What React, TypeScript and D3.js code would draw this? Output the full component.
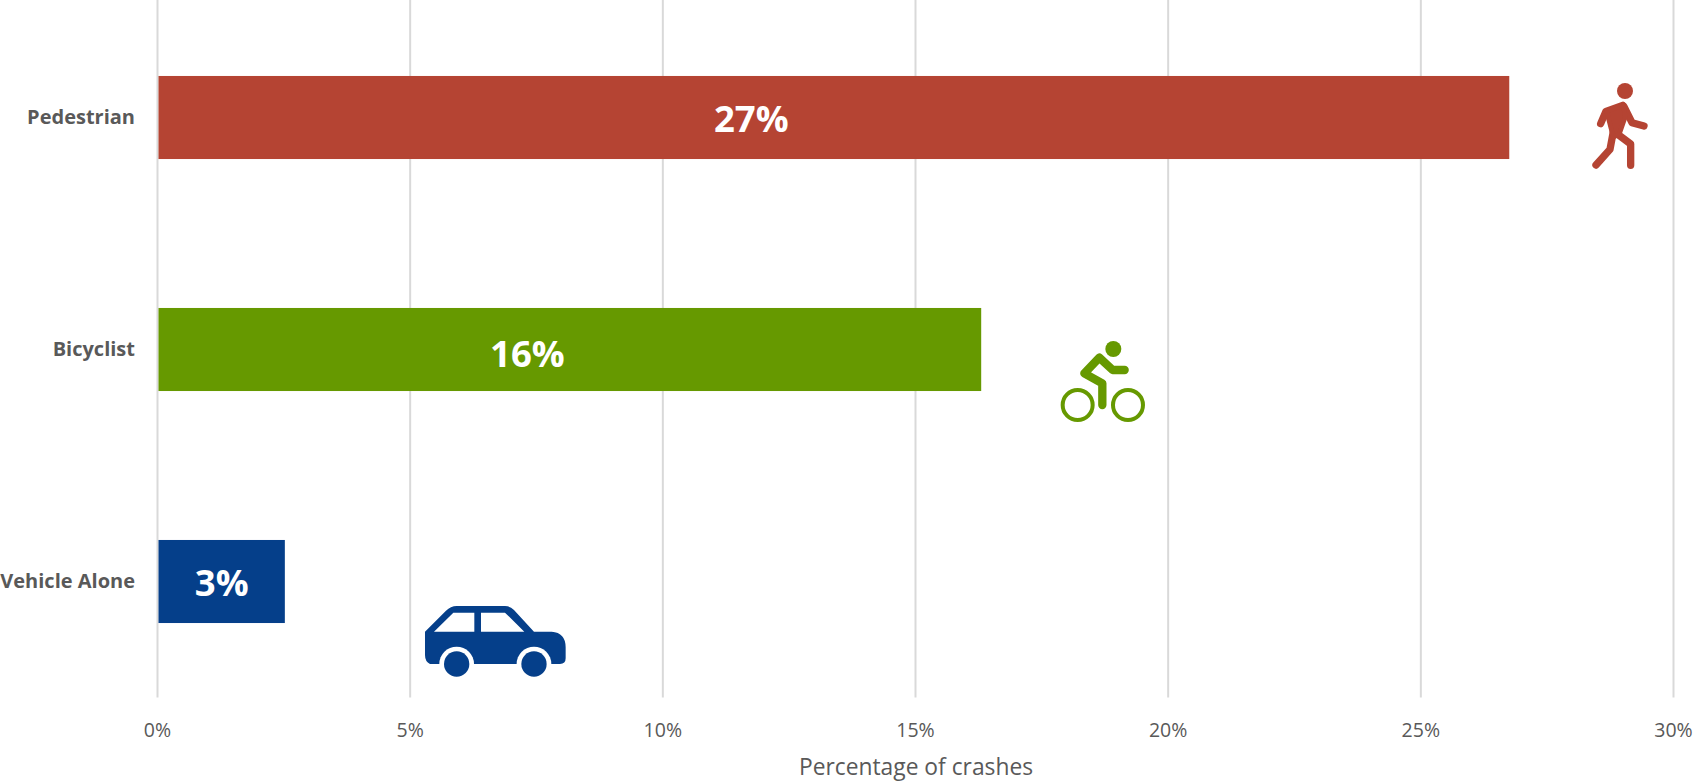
import React from "react";
import * as d3 from "d3";

const categories = ["Pedestrian", "Bicyclist", "Vehicle Alone"];
const values = [26.75, 16.3, 2.52];
const valueLabels = ["27%", "16%", "3%"];
const labelAnchors = [11.75, 7.32, 1.27];
const labelShift = [0, 3, 0];
const colors = ["#B54433", "#669900", "#053F8A"];
const ticks = [0, 5, 10, 15, 20, 25, 30];
const axisTitle = "Percentage of crashes";

const W = 1698, H = 782;
const x = d3.scaleLinear().domain([0, 30]).range([157.5, 1673.5]);
const y = d3.scaleBand().domain(categories).range([1.5, 697.5]).paddingInner(0.642).paddingOuter(0.321);
const FONT = "'Open Sans', sans-serif";
const GREY = "#595959";

function Walker({ c }: { c: string }) {
  return (
    <g transform="translate(1560,60) scale(0.3333)" fill="none" stroke={c} strokeWidth={22} strokeLinecap="round" strokeLinejoin="round">
      <circle cx={195} cy={93} r={24} fill={c} stroke="none" />
      <path d="M122,191 L138,154 L188,136" />
      <path d="M192,140 L216,188 L252,198" />
      <path d="M108,315 L150,268 L160,215" />
      <path d="M172,222 L212,252 L212,316" />
      <path d="M140,154 L190,136 L196,170 L178,222 L160,232 Z" fill={c} strokeWidth={14} />
    </g>
  );
}

function Cyclist({ c }: { c: string }) {
  return (
    <g transform="translate(1040,320) scale(0.3333)" fill="none" stroke={c} strokeLinecap="round" strokeLinejoin="round">
      <circle cx={220} cy={87} r={24} fill={c} stroke="none" />
      <circle cx={113} cy={255} r={45} strokeWidth={12} />
      <circle cx={264} cy={255} r={45} strokeWidth={12} />
      <path d="M254,150 L218,150 L178,113 L133,160 L187,190 L187,255" strokeWidth={25} />
    </g>
  );
}

function Car({ c }: { c: string }) {
  return (
    <g transform="translate(410,590) scale(0.3333)">
      <path
        fill={c}
        d="M45,125 L108,62 Q122,48 140,48 L285,48 Q300,48 312,60 L372,125 L425,125 Q467,128 467,172 L467,205 Q467,222 450,222 L60,222 Q45,215 45,195 Z"
      />
      <path fill="#fff" d="M72,125 L130,68 L193,68 L193,125 Z M213,68 L285,68 L343,125 L213,125 Z" />
      <circle cx={140} cy={222} r={52} fill="#fff" />
      <circle cx={372} cy={222} r={52} fill="#fff" />
      <rect x={30} y={223} width={460} height={60} fill="#fff" />
      <circle cx={140} cy={222} r={38} fill={c} />
      <circle cx={372} cy={222} r={38} fill={c} />
    </g>
  );
}

export default function App() {
  const bw = y.bandwidth();
  return (
    <svg width={W} height={H} viewBox={`0 0 ${W} ${H}`} style={{ position: "absolute", left: 0, top: 0, background: "#fff" }} fontFamily={FONT}>
      {ticks.map((t) => (
        <g key={t}>
          <line x1={x(t)} x2={x(t)} y1={0} y2={697.5} stroke="#D9D9D9" strokeWidth={2} />
          <text x={x(t)} y={729} textAnchor="middle" dominantBaseline="central" fontSize={19.5} fill={GREY}>{t}%</text>
        </g>
      ))}
      {categories.map((cat, i) => {
        const top = y(cat)!;
        return (
          <g key={cat}>
            <rect x={x(0) + 1} y={top} width={x(values[i]) - x(0) - 1} height={bw} fill={colors[i]} />
            <text x={135} y={top + bw / 2 - 1.5} textAnchor="end" dominantBaseline="central" fontSize={20} fontWeight={700} fill={GREY}>{cat}</text>
            <text x={x(labelAnchors[i])} y={top + bw / 2 + labelShift[i]} textAnchor="middle" dominantBaseline="central" fontSize={36.5} fontWeight={700} fill="#fff">{valueLabels[i]}</text>
          </g>
        );
      })}
      <Walker c={colors[0]} />
      <Cyclist c={colors[1]} />
      <Car c={colors[2]} />
      <text x={916} y={775} textAnchor="middle" fontSize={22.8} fill={GREY}>{axisTitle}</text>
    </svg>
  );
}
